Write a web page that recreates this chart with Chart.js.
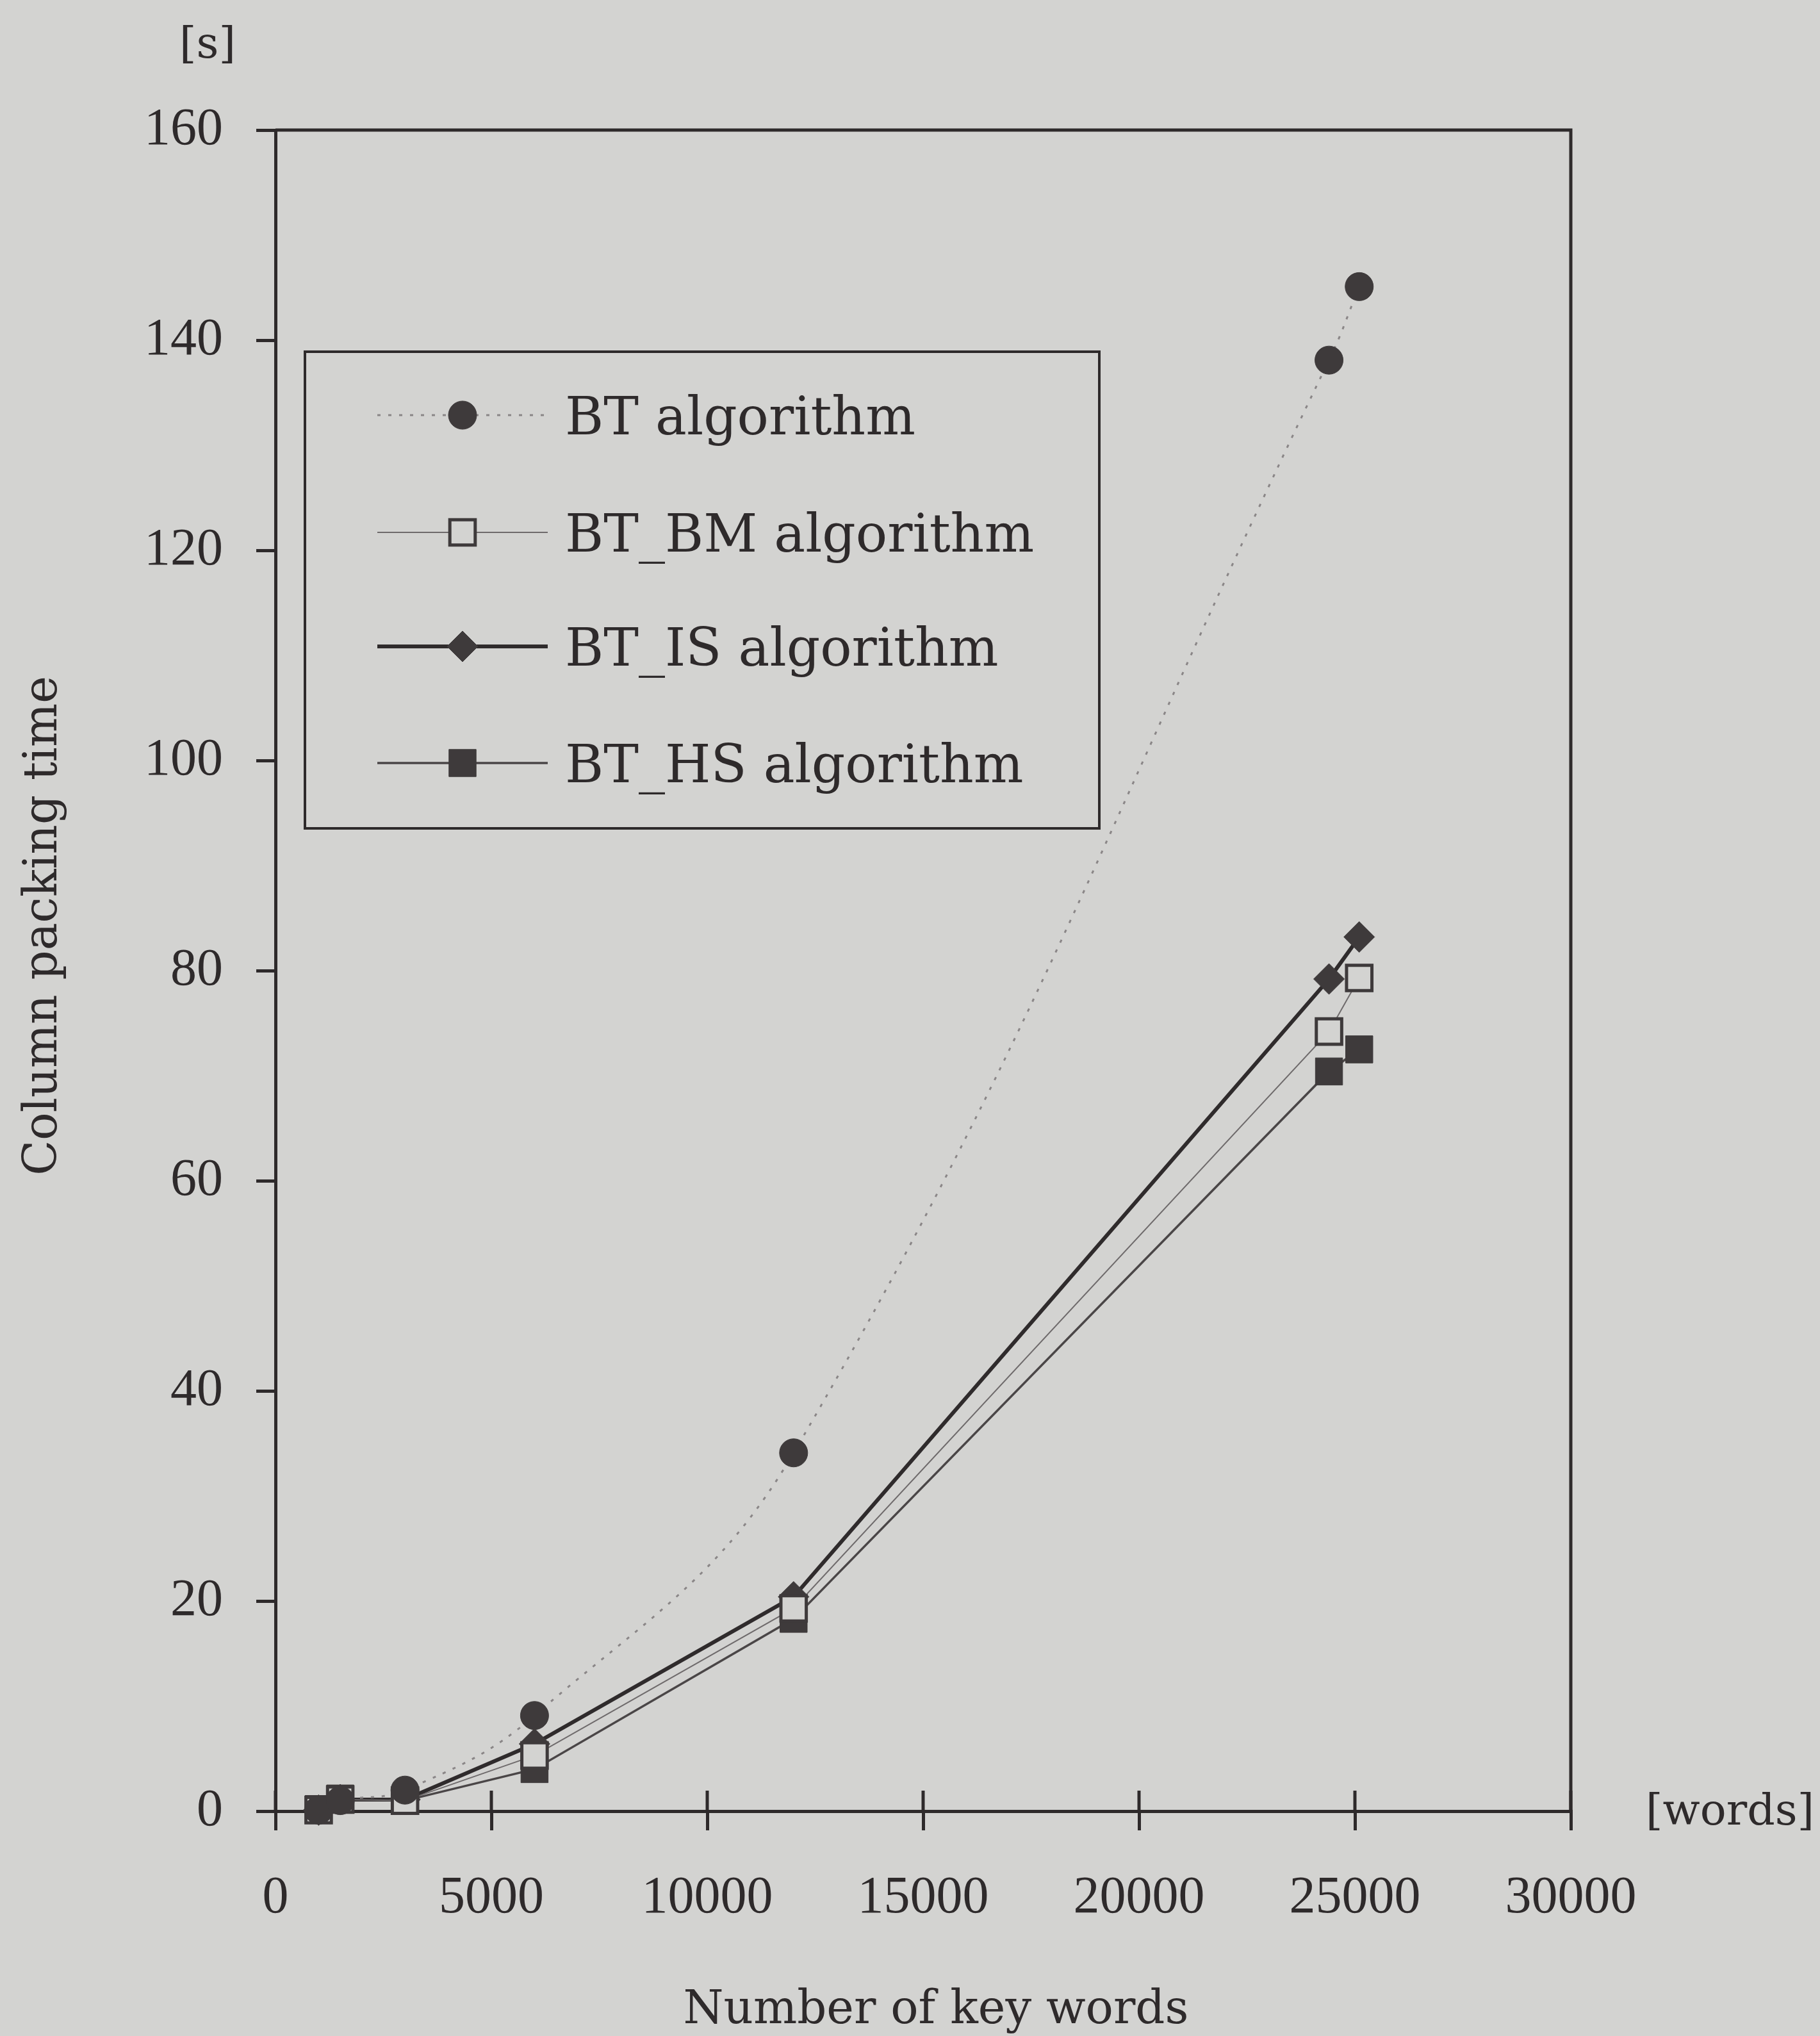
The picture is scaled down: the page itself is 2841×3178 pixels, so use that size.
<!DOCTYPE html>
<html>
<head>
<meta charset="utf-8">
<script src="https://cdn.jsdelivr.net/npm/chart.js@4.4.1/dist/chart.umd.min.js"></script>
<style>
  html, body { margin: 0; padding: 0; background: #d3d3d1; }
  #wrap { width: 2841px; height: 3178px; position: relative; }
  canvas { display: block; }
</style>
</head>
<body>
<div id="wrap"><canvas id="c" width="2841" height="3178"></canvas></div>
<script>
// ---------------- data ----------------
const keyWords   = [1000, 1500, 3000, 6000, 12000, 24400, 25100];
const btTime     = [0.1, 1.0, 2.0, 9.1, 34.1, 138.1, 145.1];
const btBmTime   = [0.1, 1.1, 1.0, 5.3, 19.3, 74.2, 79.3];
const btIsTime   = [0.1, 1.1, 1.1, 6.4, 20.4, 79.2, 83.2];
const btHsTime   = [0.2, 1.2, 1.0, 4.0, 18.3, 70.4, 72.5];
const seriesNames = ['BT algorithm', 'BT_BM algorithm', 'BT_IS algorithm', 'BT_HS algorithm'];
const xTickLabels = ['0', '5000', '10000', '15000', '20000', '25000', '30000'];
const yTickLabels = ['0', '20', '40', '60', '80', '100', '120', '140', '160'];
const yUnit = '[s]';
const xUnit = '[words]';
const yTitle = 'Column packing time';
const xTitle = 'Number of key words';

// ---------------- styles ----------------
const BG = '#d3d3d1';
const INK = '#2e2a2b';
const MARK = '#3e3a3b';
const SERIF = '"DejaVu Serif", serif';
const TICKFONT = '"Liberation Serif", serif';

const pts = (ys) => keyWords.map((x, i) => ({ x: x, y: ys[i] }));

const datasets = [
  { label: seriesNames[0], data: pts(btTime), borderColor: '#8a8687', borderWidth: 3,
    borderDash: [5, 12], tension: 0.4, pointStyle: 'circle', pointRadius: 22,
    pointBackgroundColor: MARK, pointBorderColor: MARK, pointBorderWidth: 1 },
  { label: seriesNames[1], data: pts(btBmTime), borderColor: '#6e6a6b', borderWidth: 2,
    tension: 0, pointStyle: 'rect', pointRadius: 28,
    pointBackgroundColor: BG, pointBorderColor: MARK, pointBorderWidth: 5 },
  { label: seriesNames[2], data: pts(btIsTime), borderColor: '#2f2b2c', borderWidth: 6,
    tension: 0, pointStyle: 'rectRot', pointRadius: 24,
    pointBackgroundColor: MARK, pointBorderColor: MARK, pointBorderWidth: 1 },
  { label: seriesNames[3], data: pts(btHsTime), borderColor: '#4a4647', borderWidth: 3.5,
    tension: 0, pointStyle: 'rect', pointRadius: 30,
    pointBackgroundColor: MARK, pointBorderColor: MARK, pointBorderWidth: 1 }
];
datasets.forEach(d => { d.clip = false; d.fill = false; });

function markPoint(ctx, ds, x, y) {
  ctx.save();
  ctx.setLineDash([]);
  ctx.fillStyle = ds.pointBackgroundColor;
  ctx.strokeStyle = ds.pointBorderColor;
  ctx.lineWidth = ds.pointBorderWidth;
  if (Chart.helpers && Chart.helpers.drawPoint) {
    Chart.helpers.drawPoint(ctx, { pointStyle: ds.pointStyle, rotation: 0,
      radius: ds.pointRadius, borderWidth: ds.pointBorderWidth }, x, y);
  } else {
    ctx.beginPath();
    ctx.arc(x, y, ds.pointRadius, 0, Math.PI * 2);
    ctx.fill(); ctx.stroke();
  }
  ctx.restore();
}

const framePlugin = {
  id: 'frame',
  beforeDraw(chart) {
    const ctx = chart.ctx;
    ctx.save();
    ctx.fillStyle = BG;
    ctx.fillRect(0, 0, chart.width, chart.height);
    ctx.restore();
  },
  beforeDatasetsDraw(chart) {
    const ctx = chart.ctx;
    const a = chart.chartArea;
    const xs = chart.scales.x;
    ctx.save();
    ctx.strokeStyle = INK;
    ctx.lineWidth = 5;
    ctx.beginPath();
    ctx.moveTo(a.left, a.top);
    ctx.lineTo(a.right, a.top);
    ctx.lineTo(a.right, a.bottom);
    ctx.stroke();
    // inner half of the x ticks (they cross the axis)
    xs.ticks.forEach(t => {
      const px = xs.getPixelForValue(t.value);
      ctx.beginPath();
      ctx.moveTo(px, a.bottom);
      ctx.lineTo(px, a.bottom - 32);
      ctx.stroke();
    });
    ctx.restore();
  },
  afterDraw(chart) {
    const ctx = chart.ctx;
    ctx.save();
    ctx.fillStyle = INK;
    // unit labels
    ctx.font = '68px ' + SERIF;
    ctx.textAlign = 'center';
    ctx.textBaseline = 'alphabetic';
    ctx.fillText(yUnit, 324, 90);
    ctx.textAlign = 'left';
    ctx.fillText(xUnit, 2569, 2848);
    // axis titles
    ctx.font = '72px ' + SERIF;
    ctx.textAlign = 'center';
    ctx.fillText(xTitle, 1461, 3158);
    ctx.save();
    ctx.translate(88, 1445);
    ctx.rotate(-Math.PI / 2);
    ctx.fillText(yTitle, 0, 0);
    ctx.restore();

    // legend
    const L = 476, T = 549, R = 1716, B = 1293;
    ctx.fillStyle = BG;
    ctx.fillRect(L, T, R - L, B - T);
    ctx.strokeStyle = INK;
    ctx.lineWidth = 4;
    ctx.strokeRect(L, T, R - L, B - T);
    const rows = [648, 831, 1009, 1191];
    chart.data.datasets.forEach((ds, i) => {
      const y = rows[i];
      ctx.save();
      ctx.strokeStyle = ds.borderColor;
      ctx.lineWidth = ds.borderWidth;
      ctx.setLineDash(ds.borderDash || []);
      ctx.beginPath();
      ctx.moveTo(589, y);
      ctx.lineTo(855, y);
      ctx.stroke();
      ctx.restore();
      markPoint(ctx, ds, 722, y);
      ctx.fillStyle = INK;
      ctx.font = '82px ' + SERIF;
      ctx.textAlign = 'left';
      ctx.textBaseline = 'alphabetic';
      ctx.fillText(ds.label, 882, y + 30);
    });
    ctx.restore();
  }
};

const axisCommon = {
  grid: { display: true, drawOnChartArea: false, drawTicks: true, tickLength: 30,
          lineWidth: 5, color: INK },
  border: { display: true, color: INK, width: 5 }
};

new Chart(document.getElementById('c'), {
  type: 'line',
  data: { datasets: datasets },
  options: {
    responsive: false,
    animation: false,
    devicePixelRatio: 1,
    events: [],
    layout: { padding: { left: 0, top: 203, right: 389, bottom: 151 } },
    plugins: { legend: { display: false }, tooltip: { enabled: false } },
    scales: {
      x: Object.assign({}, axisCommon, {
        type: 'linear', min: 0, max: 30000,
        ticks: { stepSize: 5000, color: INK, padding: 65,
                 font: { family: TICKFONT, size: 82, lineHeight: 1 },
                 maxRotation: 0, autoSkip: false,
                 callback: (v) => xTickLabels[Math.round(v / 5000)] },
        afterFit: (s) => { s.height = 200; }
      }),
      y: Object.assign({}, axisCommon, {
        type: 'linear', min: 0, max: 160,
        ticks: { stepSize: 20, color: INK, padding: 52,
                 font: { family: TICKFONT, size: 82, lineHeight: 1 },
                 autoSkip: false,
                 callback: (v) => yTickLabels[Math.round(v / 20)] },
        afterFit: (s) => { s.width = 430; }
      })
    }
  },
  plugins: [framePlugin]
});
</script>
</body>
</html>
